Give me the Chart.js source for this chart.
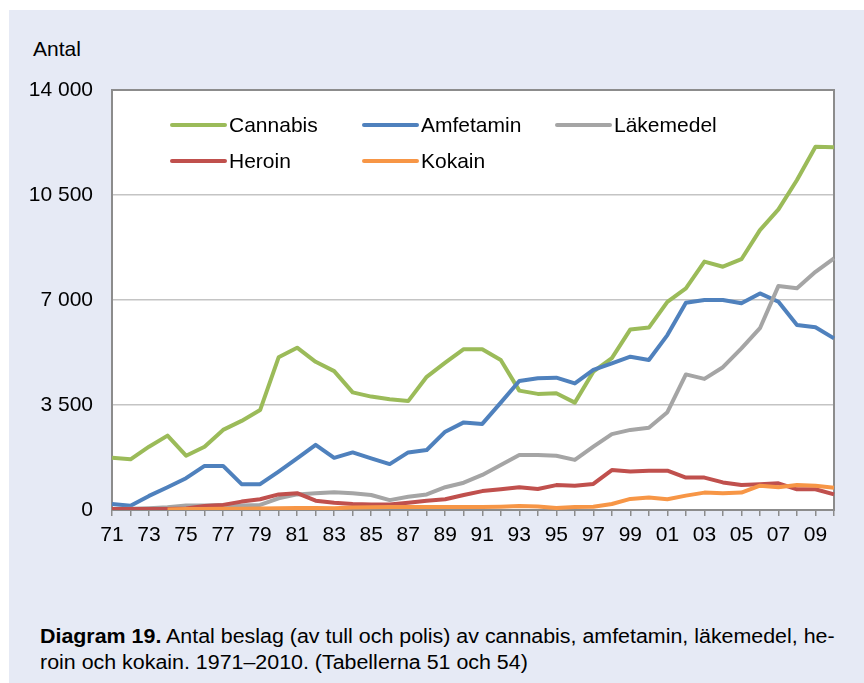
<!DOCTYPE html>
<html>
<head>
<meta charset="utf-8">
<script src="https://cdn.jsdelivr.net/npm/chart.js@4"></script>
<style>
  html, body { margin:0; padding:0; background:#ffffff; width:864px; height:683px; overflow:hidden; }
  #bg { position:absolute; left:9px; top:10px; width:855px; height:673px; background:#e6eaf5; }
  #wrap { position:absolute; left:0; top:0; width:864px; height:600px; }
  #antal { position:absolute; left:33px; top:37px; font:21px "Liberation Sans", Arial, sans-serif; color:#000; }
  #caption { position:absolute; left:40px; top:623px; font:20px "Liberation Sans", Arial, sans-serif; color:#000; line-height:26px; white-space:nowrap; transform:scaleX(1.07); transform-origin:0 0; }
  #caption b { font-weight:bold; }
</style>
</head>
<body>
<div id="bg"></div>
<div id="antal">Antal</div>
<div id="wrap"><canvas id="c" width="864" height="600"></canvas></div>
<div id="caption"><b>Diagram 19.</b> Antal beslag (av tull och polis) av cannabis, amfetamin, läkemedel, he-<br>roin och kokain. 1971–2010. (Tabellerna 51 och 54)</div>
<script>
const years = ['71','72','73','74','75','76','77','78','79','80','81','82','83','84','85','86','87','88','89','90',
               '91','92','93','94','95','96','97','98','99','00','01','02','03','04','05','06','07','08','09','10'];

const cannabis   = [1740,1690,2110,2480,1810,2110,2670,2970,3330,5090,5410,4940,4630,3920,3780,3690,3630,4440,4910,5360,
                    5360,5000,3980,3870,3890,3580,4610,5060,6020,6080,6940,7390,8280,8110,8360,9330,10020,11000,12110,12090];
const amfetamin  = [200,140,470,760,1060,1470,1470,860,860,1280,1720,2170,1740,1920,1720,1530,1920,2000,2610,2920,
                    2870,3580,4300,4390,4410,4220,4670,4890,5110,5000,5830,6910,7000,7000,6890,7220,6940,6170,6090,5720];
const lakemedel  = [30,40,60,90,150,150,170,150,170,390,520,560,590,560,500,330,440,520,760,910,
                    1170,1500,1830,1830,1810,1670,2110,2530,2670,2740,3260,4520,4370,4760,5390,6060,7470,7390,7940,8390];
const heroin     = [30,30,30,30,50,130,170,280,360,520,560,310,240,200,180,180,240,310,360,500,
                    630,690,760,700,830,810,870,1330,1280,1310,1310,1080,1080,920,830,860,890,690,690,520];
const kokain     = [null,null,null,20,30,30,40,40,50,60,70,70,60,80,90,100,100,100,100,100,
                    100,110,130,120,70,100,110,200,370,420,360,480,580,560,580,810,760,830,810,740];

const yTicks = [0, 3500, 7000, 10500, 14000];
const seriesNames  = ['Cannabis','Amfetamin','Läkemedel','Heroin','Kokain'];
const seriesColors = ['#9bbb59','#4f81bd','#a5a5a5','#c0504d','#f79646'];
const seriesData   = [cannabis, amfetamin, lakemedel, heroin, kokain];

const FONT = '"Liberation Sans", Arial, sans-serif';

const plotBg = {
  id: 'plotBg',
  beforeDraw(chart) {
    const {ctx, chartArea:a} = chart;
    ctx.save();
    ctx.fillStyle = '#ffffff';
    ctx.fillRect(a.left, a.top, a.right - a.left, a.bottom - a.top);
    ctx.restore();
  },
  beforeDatasetsDraw(chart) {
    const {ctx, chartArea:a} = chart;
    ctx.save();
    ctx.strokeStyle = '#8c8c8c';
    ctx.lineWidth = 2;
    ctx.strokeRect(a.left, a.top, a.right - a.left, a.bottom - a.top);
    ctx.restore();
  }
};

const innerLegend = {
  id: 'innerLegend',
  afterDatasetsDraw(chart) {
    const {ctx, chartArea:a} = chart;
    const colX = [58, 250, 443];
    const rowY = [35, 71];
    ctx.save();
    ctx.font = '21px ' + FONT;
    ctx.textBaseline = 'middle';
    ctx.textAlign = 'left';
    chart.data.datasets.forEach((ds, i) => {
      const x = a.left + colX[i % 3];
      const y = a.top + rowY[Math.floor(i / 3)];
      ctx.strokeStyle = ds.borderColor;
      ctx.lineWidth = 4;
      ctx.lineCap = 'round';
      ctx.beginPath();
      ctx.moveTo(x + 2, y);
      ctx.lineTo(x + 55, y);
      ctx.stroke();
      ctx.fillStyle = '#000';
      ctx.fillText(ds.label, x + 59, y + 1);
    });
    ctx.restore();
  }
};

new Chart(document.getElementById('c'), {
  type: 'line',
  data: {
    labels: years,
    datasets: seriesNames.map((n, i) => ({
      label: n,
      data: seriesData[i],
      borderColor: seriesColors[i],
      backgroundColor: seriesColors[i],
      borderWidth: 4,
      pointRadius: 0,
      tension: 0,
      borderJoinStyle: 'round',
      borderCapStyle: 'butt',
      spanGaps: false,
      order: 4 - i
    }))
  },
  options: {
    responsive: false,
    animation: false,
    devicePixelRatio: 1,
    layout: { padding: { top: 90, left: 0, right: 30, bottom: 40 } },
    plugins: {
      legend: { display: false },
      tooltip: { enabled: false },
      title: { display: false }
    },
    scales: {
      x: {
        type: 'category',
        offset: false,
        afterFit(s) { s.height = 50; },
        grid: { drawOnChartArea: false, drawTicks: true, tickLength: 6, color: '#8c8c8c', lineWidth: 1.5 },
        border: { display: false },
        ticks: {
          autoSkip: false, maxRotation: 0, minRotation: 0, padding: 7,
          color: '#000', font: { family: FONT, size: 21 },
          callback(v, i) { return i % 2 === 0 ? years[i] : ''; }
        }
      },
      y: {
        min: 0, max: 14000,
        afterFit(s) { s.width = 112; },
        afterBuildTicks(s) { s.ticks = yTicks.map(v => ({ value: v })); },
        grid: { drawTicks: false, color: '#c4c4c4', lineWidth: 1.5 },
        border: { display: false },
        ticks: {
          padding: 19, color: '#000', font: { family: FONT, size: 21 },
          callback(v) { return v === 0 ? '0' : String(v).replace(/\B(?=(\d{3})+(?!\d))/g, ' '); }
        }
      }
    }
  },
  plugins: [plotBg, innerLegend]
});
</script>
</body>
</html>
